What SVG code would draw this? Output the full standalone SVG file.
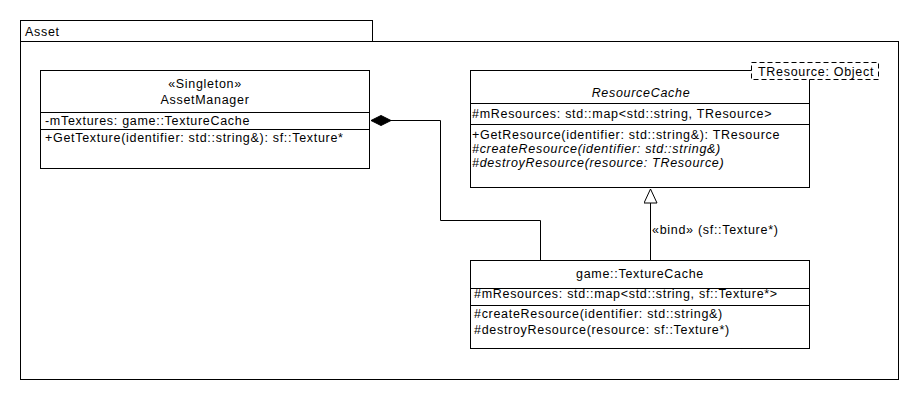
<svg xmlns="http://www.w3.org/2000/svg" width="920" height="400" viewBox="0 0 920 400">
<style>
text{font-family:"Liberation Sans",Arial,sans-serif;font-size:12.5px;letter-spacing:0.7px;fill:#000}
.box{fill:#fff;stroke:#000;stroke-width:1}
.ln{stroke:#000;stroke-width:1;fill:none}
.c{text-anchor:middle}
.i{font-style:italic}
</style>
<defs>
<marker id="diamond" markerWidth="24" markerHeight="14" refX="1" refY="7" orient="auto" markerUnits="userSpaceOnUse">
<path d="M1,7 L11,2 L21,7 L11,12 Z" fill="#000" stroke="#000"/>
</marker>
<marker id="tri" markerWidth="16" markerHeight="16" refX="14.5" refY="7" orient="auto" markerUnits="userSpaceOnUse">
<path d="M0.5,0.5 L14.5,7 L0.5,13.5 Z" fill="#fff" stroke="#000"/>
</marker>
</defs>
<rect width="920" height="400" fill="#fff"/>
<g id="package-Asset">
<rect class="box" x="20.5" y="20.5" width="352" height="21"/>
<rect class="box" x="20.5" y="41.5" width="878" height="338"/>
<text x="25" y="36">Asset</text>
</g>
<g id="AssetManager">
<rect class="box" x="40.5" y="70.5" width="329" height="98"/>
<line class="ln" x1="40.5" y1="112.5" x2="369.5" y2="112.5"/>
<line class="ln" x1="40.5" y1="129.5" x2="369.5" y2="129.5"/>
<text class="c" x="205" y="88">«Singleton»</text>
<text class="c" x="205" y="104">AssetManager</text>
<text x="45" y="125">-mTextures: game::TextureCache</text>
<text x="45" y="142">+GetTexture(identifier: std::string&amp;): sf::Texture*</text>
</g>
<g id="ResourceCache">
<rect class="box" x="470.5" y="70.5" width="339" height="117"/>
<line class="ln" x1="470.5" y1="103.5" x2="809.5" y2="103.5"/>
<line class="ln" x1="470.5" y1="124.5" x2="809.5" y2="124.5"/>
<text class="c i" x="641" y="97">ResourceCache</text>
<text x="472" y="118">#mResources: std::map&lt;std::string, TResource&gt;</text>
<text x="472" y="139">+GetResource(identifier: std::string&amp;): TResource</text>
<text class="i" x="472" y="153">#createResource(identifier: std::string&amp;)</text>
<text class="i" x="472" y="167">#destroyResource(resource: TResource)</text>
<rect x="751.5" y="62.5" width="127" height="17" fill="#fff" stroke="#000" stroke-dasharray="5,3"/>
<text x="758" y="76">TResource: Object</text>
</g>
<g id="TextureCache">
<rect class="box" x="470.5" y="260.5" width="339" height="88"/>
<line class="ln" x1="470.5" y1="288.5" x2="809.5" y2="288.5"/>
<line class="ln" x1="470.5" y1="305.5" x2="809.5" y2="305.5"/>
<text class="c" x="640" y="278">game::TextureCache</text>
<text x="474" y="298">#mResources: std::map&lt;std::string, sf::Texture*&gt;</text>
<text x="474" y="318">#createResource(identifier: std::string&amp;)</text>
<text x="474" y="334">#destroyResource(resource: sf::Texture*)</text>
</g>
<g id="connectors">
<path class="ln" d="M371,120.5 L440.5,120.5 L440.5,220.5 L540.5,220.5 L540.5,260" marker-start="url(#diamond)"/>
<path class="ln" d="M650.5,260 L650.5,189" marker-end="url(#tri)"/>
<text x="652" y="234">«bind» (sf::Texture*)</text>
</g>
</svg>
